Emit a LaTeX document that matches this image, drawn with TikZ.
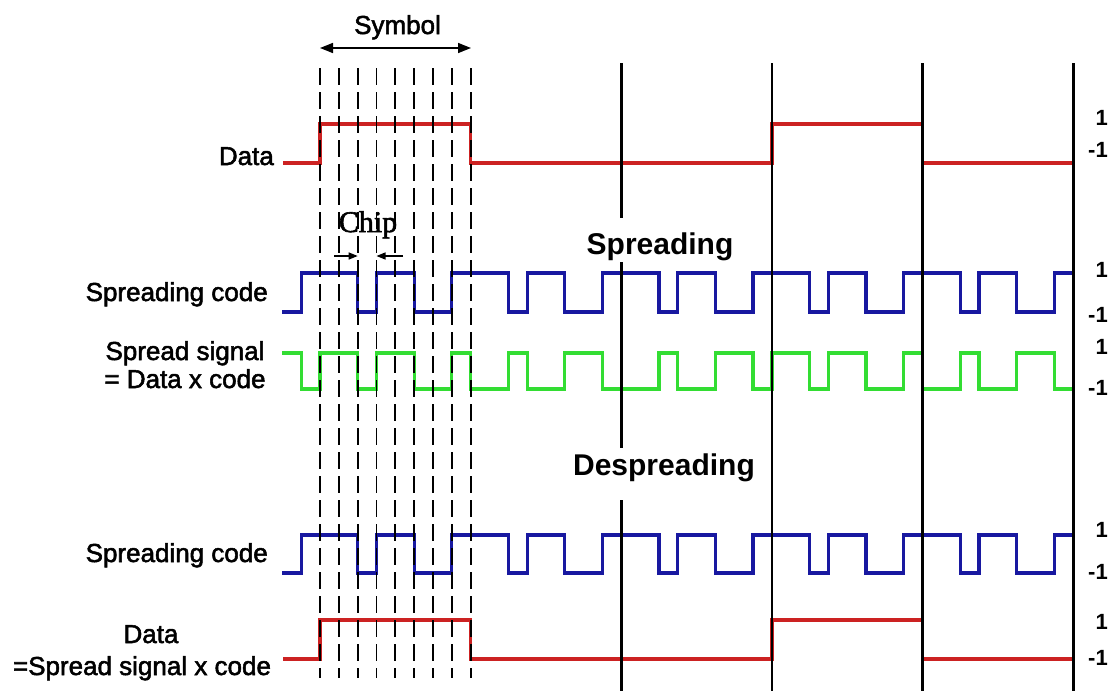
\documentclass[tikz,border=0pt]{standalone}
\usepackage{fontspec}
\setmainfont{Liberation Sans}
\newfontfamily\labfont[FakeBold=2]{Liberation Sans}
\newfontfamily\chipfont[FakeBold=2]{Liberation Serif}
\usetikzlibrary{arrows.meta}
\definecolor{sigred}{RGB}{204,34,34}
\definecolor{sigblue}{RGB}{24,24,160}
\definecolor{siggreen}{RGB}{51,221,51}
\begin{document}
\begin{tikzpicture}[x=1pt,y=-1pt,
  wave/.style={line width=3.2pt,line join=miter},
  chipline/.style={line width=1.8pt,dash pattern=on 17pt off 7pt},
  bound/.style={line width=2.8pt},
  lab/.style={font=\labfont\fontsize{26}{29}\selectfont,inner sep=0pt},
  head/.style={font=\fontsize{30}{34}\selectfont\bfseries,inner sep=0pt,anchor=base},
  val/.style={font=\fontsize{22}{25}\selectfont\bfseries,inner sep=0pt,anchor=east},
  symarrow/.style={line width=1.5pt,{Triangle[length=13pt,width=10pt]}-{Triangle[length=13pt,width=10pt]}},
  chiparrow/.style={line width=1.3pt,-{Triangle[length=9pt,width=7pt]}}
]
\path[use as bounding box,fill=white] (0,0) rectangle (1109,691);
\def\codeseq{1,1,1,-1,1,1,-1,-1,1,1,1,-1,1,1,-1,-1,1,1,1,-1,1,1,-1,-1,1,1,1,-1,1,1,-1,-1,1,1,1,-1,1,1,-1,-1,1}
\def\spreadseq{-1,1,1,-1,1,1,-1,-1,1,-1,-1,1,-1,-1,1,1,-1,-1,-1,1,-1,-1,1,1,-1,1,1,-1,1,1,-1,-1,1,-1,-1,1,-1,-1,1,1,-1}

% waveforms
\draw[wave,sigred] (283,163) -- (320,163)
  \foreach \v [count=\k] in {1,-1,-1,1,-1} { |- ({320+\k*150.64},{143.5-19.5*\v}) };
\draw[wave,sigblue] (282,312) -- (301.17,312)
  \foreach \v [count=\k] in \codeseq { |- ({301.17+\k*18.83},{292.5-19.5*\v}) };
\draw[wave,siggreen] (282,353) -- (301.17,353)
  \foreach \v [count=\k] in \spreadseq { |- ({301.17+\k*18.83},{371-18*\v}) };
\draw[wave,sigblue] (282,573) -- (301.17,573)
  \foreach \v [count=\k] in \codeseq { |- ({301.17+\k*18.83},{554-19*\v}) };
\draw[wave,sigred] (283,659) -- (320,659)
  \foreach \v [count=\k] in {1,-1,-1,1,-1} { |- ({320+\k*150.64},{639.5-19.5*\v}) };

% chip boundaries of the first symbol
\foreach \i in {0,...,8} \draw[chipline] ({320+\i*18.83},68) -- ({320+\i*18.83},678);

% symbol boundaries
\draw[bound] (621.3,63) -- (621.3,218) (621.3,262) -- (621.3,448) (621.3,500) -- (621.3,691);
\foreach \xx in {772,922.6,1073.3} \draw[bound] (\xx,63) -- (\xx,691);

% symbol arrow
\coordinate (symL) at (320,48);
\coordinate (symR) at (471,48);
\draw[symarrow] (symL) -- (symR);
\node[lab,anchor=base] (symbol) at (397.5,34) {Symbol};

% chip arrows
\coordinate (ca1) at (334,256);
\coordinate (ca2) at (357.7,256);
\coordinate (cb1) at (403,256);
\coordinate (cb2) at (376.5,256);
\draw[chiparrow] (ca1) -- (ca2);
\draw[chiparrow] (cb1) -- (cb2);
\node[font=\chipfont\fontsize{30}{34}\selectfont,inner sep=0pt,anchor=base] (chip) at (368,232) {Chip};

% headings
\node[head] (spreading) at (660,254) {Spreading};
\node[head] (despreading) at (664,475) {Despreading};

% left labels
\node[lab,anchor=base east] (dataA) at (274,165) {Data};
\node[lab,anchor=base east] (codeA) at (268,301) {Spreading code};
\node[lab,anchor=base] (spreadA) at (185,360) {Spread signal};
\node[lab,anchor=base] (spreadB) at (185,388) {= Data x code};
\node[lab,anchor=base east] (codeB) at (268,562) {Spreading code};
\node[lab,anchor=base] (dataB) at (151,643) {Data};
\node[lab,anchor=base] (dataC) at (142,675) {=Spread signal x code};

% right values
\node[val] (v1) at (1108,118) {1};
\node[val] (v2) at (1108,150) {-1};
\node[val] (v3) at (1108,270) {1};
\node[val] (v4) at (1108,315) {-1};
\node[val] (v5) at (1108,347) {1};
\node[val] (v6) at (1108,388) {-1};
\node[val] (v7) at (1108,530) {1};
\node[val] (v8) at (1108,572) {-1};
\node[val] (v9) at (1108,622) {1};
\node[val] (v10) at (1108,658) {-1};
\end{tikzpicture}
\end{document}
